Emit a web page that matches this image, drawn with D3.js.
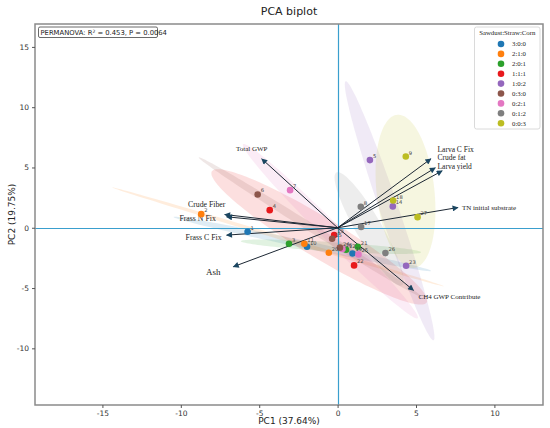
<!DOCTYPE html>
<html>
<head>
<meta charset="utf-8">
<script src="https://cdn.jsdelivr.net/npm/d3@7"></script>
<style>
  html, body { margin: 0; padding: 0; background: #fff; }
  svg { display: block; }
</style>
</head>
<body>
<div id="chart"></div>
<script>
'use strict';

// Gruppen (Sawdust:Straw:Corn) und Farben
const groups = ['3:0:0', '2:1:0', '2:0:1', '1:1:1', '1:0:2', '0:3:0', '0:2:1', '0:1:2', '0:0:3'];
const groupColors = ['#1f77b4', '#ff7f0e', '#2ca02c', '#e8191c', '#9467bd', '#8c564b', '#e377c2', '#7f7f7f', '#bcbd22'];

// Probenpunkte 1..27 (Scores), Gruppe = (id-1) % 9
const sampleIds = d3.range(1, 28);
const pc1Scores = [-5.74, -8.70, -3.10, -4.33, 2.06, -5.10, -3.03, 1.48, 4.35,
                   -1.95, -2.12, 0.54, -0.22, 3.52, -0.35, 0.31, 1.50, 3.54,
                   0.95, -0.56, 1.29, 1.05, 4.37, 0.15, 1.33, 3.05, 5.10];
const pc2Scores = [-0.33, 1.13, -1.33, 1.46, 5.61, 2.76, 3.12, 1.74, 5.91,
                   -1.57, -1.33, -1.82, -0.61, 1.77, -0.91, -1.76, 0.06, 2.26,
                   -2.13, -2.07, -1.57, -3.12, -3.15, -1.65, -2.21, -2.10, 0.88];

// Ladungsvektoren (Pfeilspitzen in Achseneinheiten)
const loadingNames = ['Total GWP', 'Crude Fiber', 'Frass N Fix', 'Frass C Fix', 'Ash',
                      'Larva C Fix', 'Crude fat', 'Larva yield', 'TN initial substrate', 'CH4 GWP Contribute'];
const loadingPC1 = [-4.84, -7.20, -7.08, -7.08, -6.65, 5.95, 6.23, 6.67, 7.68, 4.84];
const loadingPC2 = [5.72, 1.10, 0.91, -0.61, -3.23, 5.72, 4.97, 4.72, 1.68, -5.19];

const xTicks = [-15, -10, -5, 0, 5, 10];
const yTicks = [-10, -5, 0, 5, 10, 15];

// Label-Versatz je Ladung (px relativ zur Spitze) — manuell, sonst überlappen die Texte
const LABEL_OFFSETS = {
  'Total GWP':            { dx: -10, dy: -7.5, anchor: 'middle', size: 7 },
  'Crude Fiber':          { dx: -18, dy: -8,   anchor: 'middle', size: 7.8 },
  'Frass N Fix':          { dx: -29, dy: 4,    anchor: 'middle', size: 7.8 },
  'Frass C Fix':          { dx: -23, dy: 5,    anchor: 'middle', size: 7.8 },
  'Ash':                  { dx: -20, dy: 8.5,  anchor: 'middle', size: 9 },
  'Larva C Fix':          { dx: 6.6, dy: -6.5, anchor: 'start',  size: 7.5 },
  'Crude fat':            { dx: 2.3, dy: -7.5, anchor: 'start',  size: 7.5 },
  'Larva yield':          { dx: -4.7, dy: -2,  anchor: 'start',  size: 7.5 },
  'TN initial substrate': { dx: 4,   dy: 2,    anchor: 'start',  size: 7 },
  'CH4 GWP Contribute':   { dx: 5,   dy: 8.5,  anchor: 'start',  size: 7 }
};

const width = 550;
const height = 428;
const plot = { left: 35, right: 543, top: 24, bottom: 405 };

const x = d3.scaleLinear().domain([-19.3, 13.1]).range([plot.left, plot.right]);
const y = d3.scaleLinear().domain([-14.7, 16.9]).range([plot.bottom, plot.top]);

const svg = d3.select('#chart').append('svg')
  .attr('width', width)
  .attr('height', height)
  .attr('viewBox', `0 0 ${width} ${height}`);

const SANS = 'DejaVu Sans, sans-serif';
const SERIF = 'Liberation Serif, Times New Roman, serif';

svg.append('defs').append('clipPath').attr('id', 'clip')
  .append('rect')
  .attr('x', plot.left).attr('y', plot.top)
  .attr('width', plot.right - plot.left).attr('height', plot.bottom - plot.top);

const samples = sampleIds.map((id, i) => ({
  id,
  group: (id - 1) % groups.length,
  pc1: pc1Scores[i],
  pc2: pc2Scores[i]
}));

// 95%-Konfidenzellipsen aus den Gruppenpunkten (Kovarianz, n-1)
const CHI = Math.sqrt(5.991);
function ellipsePoints(pts) {
  const n = pts.length;
  const mx = d3.mean(pts, p => p.pc1);
  const my = d3.mean(pts, p => p.pc2);
  let sxx = 0, syy = 0, sxy = 0;
  pts.forEach(p => {
    sxx += (p.pc1 - mx) ** 2;
    syy += (p.pc2 - my) ** 2;
    sxy += (p.pc1 - mx) * (p.pc2 - my);
  });
  sxx /= (n - 1); syy /= (n - 1); sxy /= (n - 1);
  const tr = sxx + syy;
  const det = sxx * syy - sxy * sxy;
  const disc = Math.sqrt(Math.max(0, tr * tr / 4 - det));
  const l1 = tr / 2 + disc;
  const l2 = Math.max(0, tr / 2 - disc);
  const theta = Math.atan2(l1 - sxx, sxy || 1e-9);
  const a = CHI * Math.sqrt(l1);
  const b = CHI * Math.sqrt(l2);
  return d3.range(0, 121).map(k => {
    const t = (k / 120) * 2 * Math.PI;
    const ex = a * Math.cos(t);
    const ey = b * Math.sin(t);
    return [mx + ex * Math.cos(theta) - ey * Math.sin(theta),
            my + ex * Math.sin(theta) + ey * Math.cos(theta)];
  });
}

const line = d3.line().x(d => x(d[0])).y(d => y(d[1]));

const ellipseLayer = svg.append('g').attr('clip-path', 'url(#clip)');
groups.forEach((g, gi) => {
  const pts = samples.filter(s => s.group === gi);
  ellipseLayer.append('path')
    .attr('d', line(ellipsePoints(pts)))
    .attr('fill', groupColors[gi])
    .attr('fill-opacity', 0.14)
    .attr('stroke', 'none');
});

// Nulllinien (auf Pixelmitte gerundet, sonst wirken sie grau-verwaschen)
const zeroY = Math.round(y(0)) + 0.5;
const zeroX = Math.round(x(0)) + 0.5;
svg.append('line')
  .attr('x1', plot.left).attr('x2', plot.right)
  .attr('y1', zeroY).attr('y2', zeroY)
  .attr('stroke', '#3a9fce').attr('stroke-width', 1.2);
svg.append('line')
  .attr('x1', zeroX).attr('x2', zeroX)
  .attr('y1', plot.top).attr('y2', plot.bottom)
  .attr('stroke', '#3a9fce').attr('stroke-width', 1.2);

// Pfeile
svg.select('defs').append('marker')
  .attr('id', 'head')
  .attr('viewBox', '0 0 10 10')
  .attr('refX', 9).attr('refY', 5)
  .attr('markerUnits', 'userSpaceOnUse')
  .attr('markerWidth', 8).attr('markerHeight', 6)
  .attr('orient', 'auto')
  .append('path')
  .attr('d', 'M0,0 L10,5 L0,10 Z')
  .attr('fill', '#1b4661');

const arrows = svg.append('g');
loadingNames.forEach((name, i) => {
  const tx = x(loadingPC1[i]);
  const ty = y(loadingPC2[i]);
  arrows.append('line')
    .attr('x1', x(0)).attr('y1', y(0))
    .attr('x2', tx).attr('y2', ty)
    .attr('stroke', '#1c2733')
    .attr('stroke-width', 1)
    .attr('marker-end', 'url(#head)');
  const off = LABEL_OFFSETS[name];
  arrows.append('text')
    .attr('x', tx + off.dx)
    .attr('y', ty + off.dy)
    .attr('text-anchor', off.anchor)
    .attr('font-family', SERIF)
    .attr('font-size', off.size)
    .attr('fill', '#222')
    .text(name);
});

// Punkte
const pointLayer = svg.append('g');
samples.forEach(s => {
  pointLayer.append('circle')
    .attr('cx', x(s.pc1)).attr('cy', y(s.pc2))
    .attr('r', 3.3)
    .attr('fill', groupColors[s.group]);
});
samples.forEach(s => {
  pointLayer.append('text')
    .attr('x', x(s.pc1) + 3)
    .attr('y', y(s.pc2) - 2)
    .attr('font-family', SANS)
    .attr('font-size', 5.2)
    .attr('fill', '#444')
    .text(s.id);
});

// Rahmen
svg.append('rect')
  .attr('x', plot.left).attr('y', plot.top)
  .attr('width', plot.right - plot.left).attr('height', plot.bottom - plot.top)
  .attr('fill', 'none')
  .attr('stroke', '#8a8a8a')
  .attr('stroke-width', 1.5);

// Achsen
const xAxis = svg.append('g')
  .attr('transform', `translate(0,${plot.bottom})`)
  .call(d3.axisBottom(x).tickValues(xTicks).tickSize(3).tickPadding(3).tickFormat(d3.format('d')));
const yAxis = svg.append('g')
  .attr('transform', `translate(${plot.left},0)`)
  .call(d3.axisLeft(y).tickValues(yTicks).tickSize(3).tickPadding(3).tickFormat(d3.format('d')));
[xAxis, yAxis].forEach(ax => {
  ax.select('.domain').remove();
  ax.selectAll('.tick line').attr('stroke', '#555');
  ax.selectAll('.tick text')
    .attr('font-family', SANS)
    .attr('font-size', 7.5)
    .attr('fill', '#333');
});
// d3 nutzt Unicode-Minus; Original zeigt Bindestrich
xAxis.selectAll('.tick text').text(d => String(d));
yAxis.selectAll('.tick text').text(d => String(d));

svg.append('text')
  .attr('x', (plot.left + plot.right) / 2)
  .attr('y', 424)
  .attr('text-anchor', 'middle')
  .attr('font-family', SANS)
  .attr('font-size', 9)
  .attr('fill', '#222')
  .text('PC1 (37.64%)');

svg.append('text')
  .attr('transform', `translate(15,${(plot.top + plot.bottom) / 2}) rotate(-90)`)
  .attr('text-anchor', 'middle')
  .attr('font-family', SANS)
  .attr('font-size', 9)
  .attr('fill', '#222')
  .text('PC2 (19.75%)');

svg.append('text')
  .attr('x', (plot.left + plot.right) / 2)
  .attr('y', 15)
  .attr('text-anchor', 'middle')
  .attr('font-family', SANS)
  .attr('font-size', 11)
  .attr('fill', '#222')
  .text('PCA biplot');

// PERMANOVA-Box
svg.append('rect')
  .attr('x', 38.5).attr('y', 27).attr('width', 119).attr('height', 10.5)
  .attr('rx', 1.5)
  .attr('fill', '#fff')
  .attr('stroke', '#444')
  .attr('stroke-width', 0.8);
const perm = svg.append('text')
  .attr('x', 40.5).attr('y', 35)
  .attr('font-family', SANS)
  .attr('font-size', 6.8)
  .attr('fill', '#222');
perm.append('tspan').text('PERMANOVA: R');
perm.append('tspan').attr('dy', -2.5).attr('font-size', 4.5).text('2');
perm.append('tspan').attr('dy', 2.5).text(' = 0.453, P = 0.0064');

// Legende
const legend = svg.append('g');
legend.append('rect')
  .attr('x', 474.5).attr('y', 27).attr('width', 65.5).attr('height', 102)
  .attr('rx', 2)
  .attr('fill', '#fff')
  .attr('fill-opacity', 0.85)
  .attr('stroke', '#d0d0d0')
  .attr('stroke-width', 0.8);
legend.append('text')
  .attr('x', 507.3).attr('y', 34.5)
  .attr('text-anchor', 'middle')
  .attr('font-family', SERIF)
  .attr('font-size', 6.8)
  .attr('fill', '#222')
  .text('Sawdust:Straw:Corn');
groups.forEach((g, gi) => {
  const ly = 44 + gi * 9.9;
  legend.append('circle')
    .attr('cx', 501).attr('cy', ly).attr('r', 3.3)
    .attr('fill', groupColors[gi]);
  legend.append('text')
    .attr('x', 512).attr('y', ly + 2.3)
    .attr('font-family', SERIF)
    .attr('font-size', 6.8)
    .attr('fill', '#222')
    .text(g);
});
</script>
</body>
</html>
